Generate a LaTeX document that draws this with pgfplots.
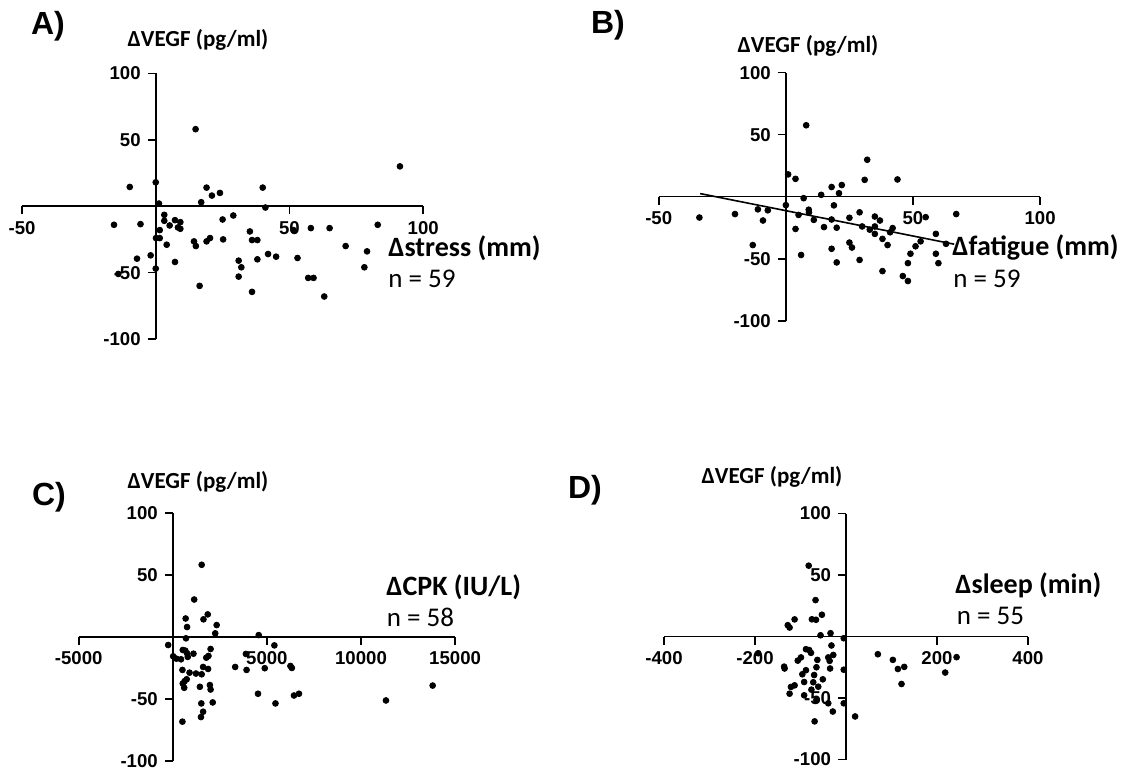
\documentclass[border=0pt]{standalone}
\usepackage{fontspec}
\usepackage{pgfplots}
\pgfplotsset{compat=1.18}
\setmainfont{Carlito}
\newfontfamily\arialf{Liberation Sans}

\pgfplotsset{
  panel/.style={
    scale only axis,
    anchor=south west,
    axis lines=middle,
    axis line style={-, line width=0.8pt, black},
    major tick style={line width=0.8pt, black},
    major tick length=4pt,
    tick align=outside,
    scaled x ticks=false,
    scaled y ticks=false,
    tick label style={font=\arialf\bfseries\fontsize{9.3}{10}\selectfont},
    ymin=-100, ymax=100,
    ytick={-100,-50,50,100},
    yticklabels={-100,-50,50,100},
    clip=false,
  },
  dots/.style={only marks, mark=*, mark size=1.45pt, black},
}

\begin{document}
\begin{tikzpicture}

% A) stress
\begin{axis}[panel, at={(11pt,216.5pt)}, width=200.6pt, height=132.8pt,
  xmin=-50, xmax=100, xtick={-50,50,100}, xticklabels={-50,50,100}]
\addplot[dots] coordinates {
(14.9,58) (91.3,30) (-9.7,14.5) (0,18) (19,14) (21,8) (24,10) (17,3) (40,14)
(1.2,2) (41,-1) (3.2,-6.5) (3.2,-11) (7.2,-10.5) (9.2,-12) (5.2,-14.5) (8.3,-16)
(9.2,-17) (-15.6,-14) (-5.7,-13.5) (25,-10) (29,-7) (1.5,-18) (0.1,-24) (1.5,-24)
(4.1,-29) (14.3,-26.5) (15,-30) (19,-26.5) (20.3,-24) (25.2,-25) (35.2,-19)
(36,-25.5) (38,-25.5) (51.5,-18) (58,-16.5) (65,-16.5) (83,-14) (71,-30) (79,-34)
(-7,-39.5) (-1.9,-37) (7.2,-42) (31,-41) (32,-46) (42,-36) (45,-38) (38,-40)
(53,-39) (78,-46) (0,-47) (-14,-51) (31,-53) (57,-54) (59,-54) (16.4,-60)
(36,-64.5) (63,-68)
};
\end{axis}

% B) fatigue
\begin{axis}[panel, at={(329.35pt,225.65pt)}, width=190.7pt, height=124pt,
  xmin=-50, xmax=100, xtick={-50,50,100}, xticklabels={-50,50,100}]
\addplot[dots] coordinates {
(8,57.6) (32,29.8) (0.9,18) (3.8,14.4) (31,13.6) (43.9,13.9) (18,7.8) (22,9.4)
(20.9,2.8) (13.9,1.5) (7,-1.2) (0,-6.8) (18.9,-7) (9,-10.5) (9.1,-12.6)
(-11,-10.2) (-7.1,-11) (-20,-14) (-34,-16.8) (-9,-19.2) (5,-14.7) (11,-18.7)
(18,-18.4) (15,-24.5) (20,-25) (25,-17) (29,-12.6) (35,-16) (37,-19.2) (30,-24)
(35,-24) (33,-26.6) (35,-30) (38,-34) (41,-28.7) (42,-25.3) (40,-39) (55,-16.5)
(67,-14) (53,-36) (51,-40) (49,-46) (59,-30) (59,-46) (63,-38) (60,-53.6)
(48,-53.6) (46,-64) (48,-68) (38,-60) (29,-51) (20,-53) (18,-42) (25,-37)
(26,-41) (6,-47) (3.8,-26) (-13,-39)
};
\addplot[black, line width=0.8pt] coordinates {(-33.7,2.5) (66.2,-38.3)};
\end{axis}

% C) CPK
\begin{axis}[panel, at={(39.35pt,5.65pt)}, width=188.2pt, height=124pt,
  xmin=-5000, xmax=15000, xtick={-5000,5000,10000,15000},
  xticklabels={-5000,5000,10000,15000}]
\addplot[dots] coordinates {
(1534,58) (1136,30) (1856,18) (1629,14) (682,14.7) (758,7.8) (2330,9.4)
(2254,2.7) (700,-1.3) (4564,1.3) (5398,-7) (-246,-6.7) (19,-15.8) (189,-17.7)
(436,-18.2) (530,-10.7) (663,-11.2) (758,-13.4) (795,-16.3) (1098,-13.7)
(2008,-9.9) (1894,-15.5) (1780,-16.9) (1610,-24.4) (1875,-26) (511,-26.8)
(890,-29) (1231,-29.7) (1534,-30.3) (739,-34.3) (625,-35.9) (530,-37.8)
(606,-41.2) (1439,-40.4) (1970,-39) (2008,-42.6) (2121,-53) (1515,-53.8)
(1610,-60.5) (1496,-64.8) (511,-68.5) (3314,-24.4) (3883,-13.9) (3920,-26.8)
(4886,-25.4) (6250,-23.6) (6326,-25.2) (4527,-46) (5455,-53.8) (6439,-47.4)
(6705,-46) (11326,-51.4) (13807,-39.4)
};
\end{axis}

% D) sleep
\begin{axis}[panel, at={(332pt,6.25pt)}, width=182pt, height=123pt,
  xmin=-400, xmax=400, xtick={-400,-200,200,400},
  xticklabels={-400,-200,200,400}]
\addplot[dots] coordinates {
(-82,57.6) (-67,29.6) (-53,17.7) (-75,14) (-66,13.6) (-113,13.9) (-128,9.2)
(-124,7.3) (-56,1) (-34,2.7) (-5,-1.4) (-32,-7.3) (-88,-10.3) (-81,-11)
(-77,-13.3) (-28,-15) (-39,-17) (-36,-19.8) (-63,-19) (-99,-17) (-106,-19.6)
(-136,-24.5) (-135,-26) (-65,-25) (-35,-26) (-5,-27) (-88,-27.4) (-96,-30.7)
(-70,-31.3) (-51,-34.8) (-92,-37) (-72,-37.2) (-61,-40.8) (-76,-43.2)
(-113,-39.7) (-121,-41) (-124,-46.5) (-92,-47.8) (-65,-51.6) (-39,-54.3)
(-5,-54.3) (-29,-61) (-69,-69) (20,-65) (70,-14.4) (103,-19) (114,-26.4)
(128,-24.7) (122,-38.6) (243,-16.8) (218,-29.3) (-193,-13.6)
};
\end{axis}

% panel letters
\node[font=\arialf\bfseries\fontsize{16}{16}\selectfont] at (24pt,373pt) {A)};
\node[font=\arialf\bfseries\fontsize{16}{16}\selectfont] at (304pt,373.5pt) {B)};
\node[font=\arialf\bfseries\fontsize{16}{16}\selectfont] at (24.5pt,137.5pt) {C)};
\node[font=\arialf\bfseries\fontsize{16}{16}\selectfont] at (292.5pt,141pt) {D)};

% y labels
\node[font=\bfseries\fontsize{11.5}{12}\selectfont] at (99pt,366pt) {ΔVEGF (pg/ml)};
\node[font=\bfseries\fontsize{11.5}{12}\selectfont] at (404pt,363pt) {ΔVEGF (pg/ml)};
\node[font=\bfseries\fontsize{11.5}{12}\selectfont] at (99pt,145pt) {ΔVEGF (pg/ml)};
\node[font=\bfseries\fontsize{11.5}{12}\selectfont] at (386pt,147.5pt) {ΔVEGF (pg/ml)};

% x labels and n
\node[anchor=west, inner sep=0pt, font=\bfseries\fontsize{14}{15}\selectfont] at (194pt,262pt) {Δstress (mm)};
\node[anchor=west, inner sep=0pt, font=\fontsize{13.5}{14}\selectfont] at (194pt,246.5pt) {n = 59};
\node[anchor=west, inner sep=0pt, font=\bfseries\fontsize{14}{15}\selectfont] at (476pt,262.5pt) {Δfatigue (mm)};
\node[anchor=west, inner sep=0pt, font=\fontsize{13.5}{14}\selectfont] at (476.5pt,246.5pt) {n = 59};
\node[anchor=west, inner sep=0pt, font=\bfseries\fontsize{14}{15}\selectfont] at (193pt,92.5pt) {ΔCPK (IU/L)};
\node[anchor=west, inner sep=0pt, font=\fontsize{13.5}{14}\selectfont] at (193.25pt,77.5pt) {n = 58};
\node[anchor=west, inner sep=0pt, font=\bfseries\fontsize{14}{15}\selectfont] at (477.5pt,93.5pt) {Δsleep (min)};
\node[anchor=west, inner sep=0pt, font=\fontsize{13.5}{14}\selectfont] at (478.25pt,78pt) {n = 55};

\pgfresetboundingbox
\path[use as bounding box] (0pt,0pt) rectangle (563.5pt,386pt);
\end{tikzpicture}
\end{document}
